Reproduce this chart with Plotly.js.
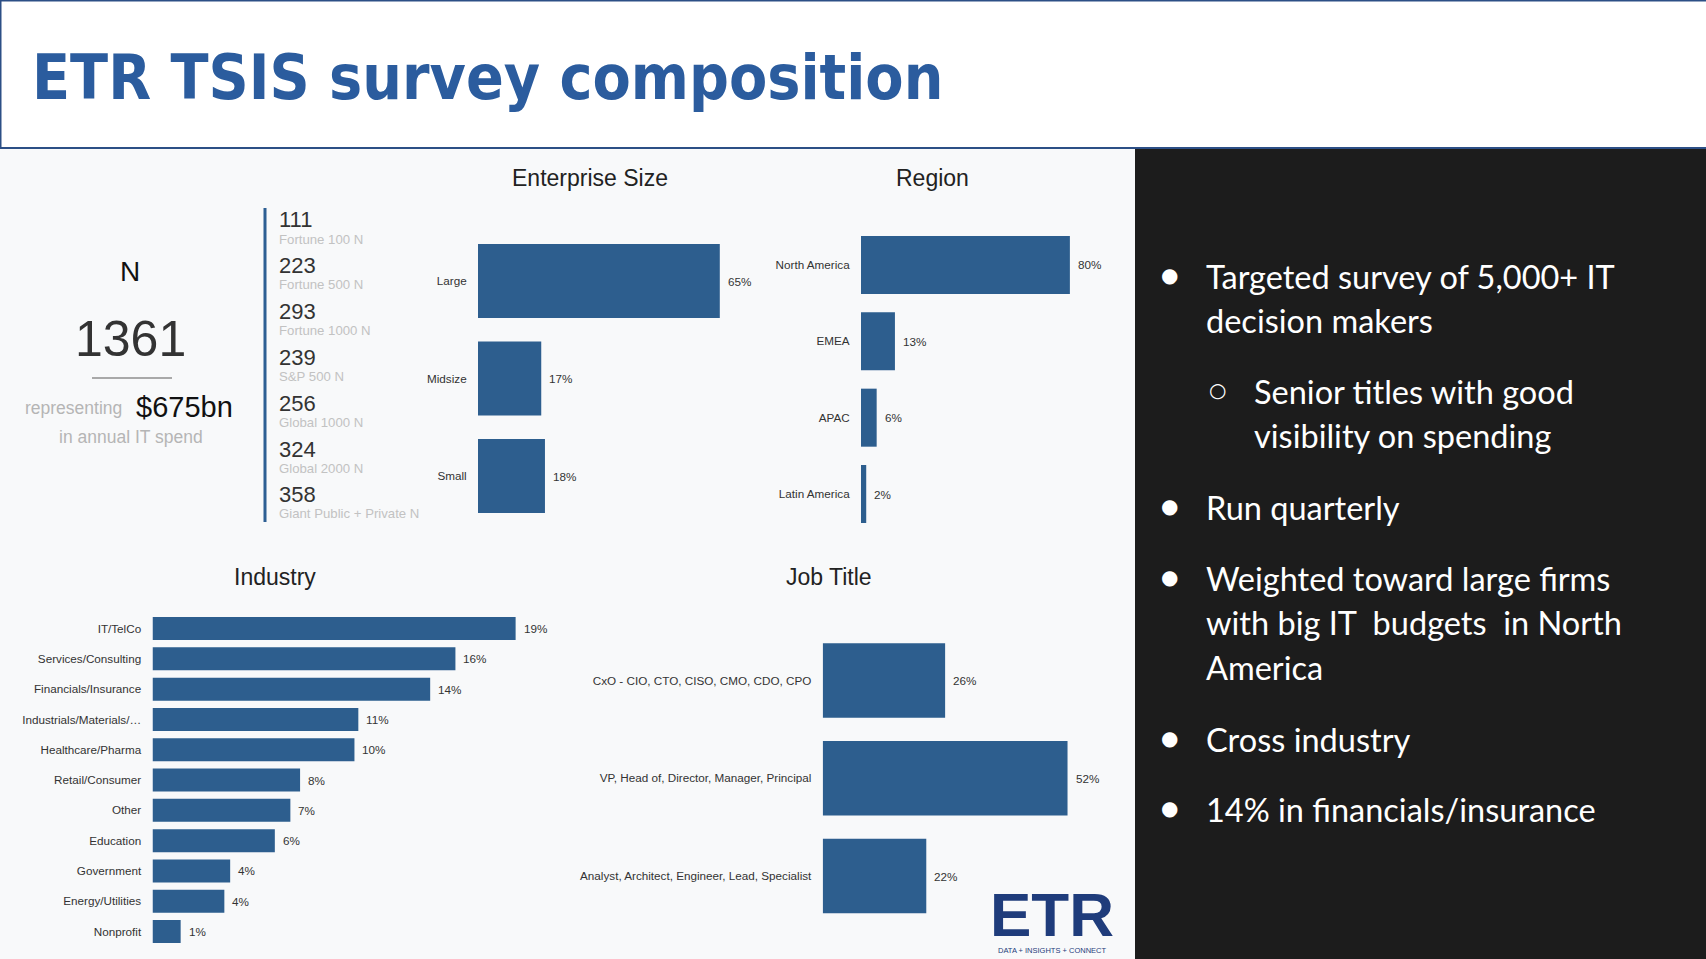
<!DOCTYPE html>
<html>
<head>
<meta charset="utf-8">
<title>ETR TSIS survey composition</title>
<script src="https://cdn.plot.ly/plotly-3.0.1.min.js"></script>
<style>
  html, body { margin: 0; padding: 0; background: #f8f9fa; }
  #chart { width: 1706px; height: 959px; }
</style>
</head>
<body>
<div id="chart"></div>
<script>
// Survey composition slide: four horizontal bar panels, the N summary block and bullet notes

const sizeLabels = ['Large', 'Midsize', 'Small'];
const sizeShares = [65, 17, 18];

const regionLabels = ['North America', 'EMEA', 'APAC', 'Latin America'];
const regionShares = [80, 13, 6, 2];

const industryLabels = ['IT/TelCo', 'Services/Consulting', 'Financials/Insurance', 'Industrials/Materials/…',
  'Healthcare/Pharma', 'Retail/Consumer', 'Other', 'Education', 'Government', 'Energy/Utilities', 'Nonprofit'];
const industryShares = [18.7, 15.6, 14.3, 10.6, 10.4, 7.6, 7.1, 6.3, 4.0, 3.7, 1.45];

const jobLabels = ['CxO - CIO, CTO, CISO, CMO, CDO, CPO', 'VP, Head of, Director, Manager, Principal',
  'Analyst, Architect, Engineer, Lead, Specialist'];
const jobShares = [26, 52, 22];

const totalN = 1361;
const itSpend = '$675bn';
const tierCounts = [111, 223, 293, 239, 256, 324, 358];
const tierLabels = ['Fortune 100 N', 'Fortune 500 N', 'Fortune 1000 N', 'S&P 500 N', 'Global 1000 N',
  'Global 2000 N', 'Giant Public + Private N'];

const noteLines = [
  'Targeted survey of 5,000+ IT', 'decision makers',
  'Senior titles with good', 'visibility on spending',
  'Run quarterly',
  'Weighted toward large firms', 'with big IT  budgets  in North', 'America',
  'Cross industry',
  '14% in financials/insurance'
];

(function () {
  'use strict';

  const W = 1706, H = 959;
  const BAR = '#2d5e8e';
  const SANS = 'Liberation Sans, Arial, sans-serif';
  const px = x => x / W;
  const py = y => 1 - y / H;

  // pixel boxes for each bar panel, scale picked so bars match the slide
  const panels = [
    { labels: sizeLabels, values: sizeShares, x: [478, 738.4], y: [232.3, 524.8], max: 70 },
    { labels: regionLabels, values: regionShares, x: [861, 1096], y: [226.8, 532.2], max: 90 },
    { labels: industryLabels, values: industryShares, x: [152.5, 579.7], y: [613.4, 946.7], max: 22 },
    { labels: jobLabels, values: jobShares, x: [822.7, 1105.2], y: [631.6, 924.9], max: 60 }
  ];

  const traces = [];
  const annotations = [];
  const layout = {
    width: W, height: H,
    margin: { t: 0, b: 0, l: 0, r: 0 },
    paper_bgcolor: '#f8f9fa',
    plot_bgcolor: 'rgba(0,0,0,0)',
    showlegend: false,
    bargap: 0.24,
    font: { family: SANS, color: '#333' }
  };

  panels.forEach(function (p, i) {
    const s = i === 0 ? '' : String(i + 1);
    traces.push({
      type: 'bar', orientation: 'h',
      x: p.values, y: p.labels,
      xaxis: 'x' + s, yaxis: 'y' + s,
      marker: { color: BAR },
      hoverinfo: 'skip'
    });
    layout['xaxis' + s] = {
      domain: [px(p.x[0]), px(p.x[1])], range: [0, p.max],
      anchor: 'y' + s, visible: false, fixedrange: true
    };
    layout['yaxis' + s] = {
      domain: [py(p.y[1]), py(p.y[0])], anchor: 'x' + s,
      type: 'category', range: [p.labels.length - 0.5, -0.5],
      showgrid: false, zeroline: false, showline: false,
      ticks: 'outside', ticklen: 8, tickcolor: 'rgba(0,0,0,0)',
      tickfont: { family: SANS, size: 11.7, color: '#333' },
      fixedrange: true
    };
    p.values.forEach(function (v, k) {
      annotations.push({
        xref: 'x' + s, yref: 'y' + s, x: v, y: p.labels[k],
        text: Math.round(v) + '%', xanchor: 'left', xshift: 6,
        showarrow: false, font: { family: SANS, size: 11.7, color: '#333' }
      });
    });
  });

  function label(text, x, y, size, color, opts) {
    annotations.push(Object.assign({
      xref: 'paper', yref: 'paper', x: px(x), y: py(y), text: text,
      showarrow: false, xanchor: 'center', yanchor: 'middle',
      font: { family: SANS, size: size, color: color }
    }, opts || {}));
  }

  // slide title
  label('<b>ETR TSIS survey composition</b>', 30, 77, 62, '#2b5c9e',
    { xanchor: 'left', font: { family: 'DejaVu Sans Condensed, Liberation Sans, sans-serif', size: 62, color: '#2b5c9e' } });

  // panel titles
  label('Enterprise Size', 590, 178, 23, '#222');
  label('Region', 933, 178, 23, '#222');
  label('Industry', 275, 577, 23, '#222');
  label('Job Title', 829, 577, 23, '#222');

  // N summary block
  label('N', 130, 271, 28, '#111');
  label(String(totalN), 130, 339, 50, '#333');
  label('representing', 124, 408, 17.5, '#b5b5b5', { xanchor: 'right' });
  label(itSpend, 134, 407, 29, '#111', { xanchor: 'left' });
  label('in annual IT spend', 130.5, 437, 17.5, '#b5b5b5');

  tierCounts.forEach(function (c, k) {
    label(String(c), 277, 220 + k * 45.8, 22, '#333', { xanchor: 'left' });
    label(tierLabels[k], 277, 239 + k * 45.8, 13.2, '#c2c2c2', { xanchor: 'left' });
  });

  // logo
  label('<b>ETR</b>', 1052, 914, 62, '#1f3c7b');
  label('DATA + INSIGHTS + CONNECT', 1052, 950, 7.5, '#1f3c7b');

  // right-hand notes
  const BODY = 'Lato, Open Sans, sans-serif';
  const rows = [
    [1204, 276, true], [1204, 320, false],
    [1252, 391, 'sub'], [1252, 435, false],
    [1204, 507, true],
    [1204, 578, true], [1204, 622, false], [1204, 667, false],
    [1204, 739, true],
    [1204, 809, true]
  ];
  noteLines.forEach(function (t, k) {
    const r = rows[k];
    label(t, r[0], r[1], 32.5, '#ffffff', { xanchor: 'left', font: { family: BODY, size: 32.5, color: '#ffffff' } });
    if (r[2] === true) label('●', 1169, r[1] - 1, 20, '#ffffff', { font: { family: 'DejaVu Sans', size: 20, color: '#ffffff' } });
    if (r[2] === 'sub') label('○', 1217, r[1] - 1, 20, '#ffffff', { font: { family: 'DejaVu Sans', size: 20, color: '#ffffff' } });
  });

  layout.annotations = annotations;
  layout.shapes = [
    { type: 'rect', xref: 'paper', yref: 'paper', layer: 'below', x0: px(0.5), x1: px(1710), y0: py(148), y1: py(0.5),
      fillcolor: '#ffffff', line: { color: '#2c4f86', width: 2 } },
    { type: 'rect', xref: 'paper', yref: 'paper', layer: 'below', x0: px(1135), x1: px(1706), y0: py(959), y1: py(149),
      fillcolor: '#1c1c1c', line: { width: 0 } },
    { type: 'line', xref: 'paper', yref: 'paper', x0: px(265), x1: px(265), y0: py(522), y1: py(208),
      line: { color: '#2d5f93', width: 3 } },
    { type: 'line', xref: 'paper', yref: 'paper', x0: px(92), x1: px(172), y0: py(378), y1: py(378),
      line: { color: '#a9a9a9', width: 2 } }
  ];

  Plotly.newPlot('chart', traces, layout, { displayModeBar: false, staticPlot: true });
})();
</script>
</body>
</html>
